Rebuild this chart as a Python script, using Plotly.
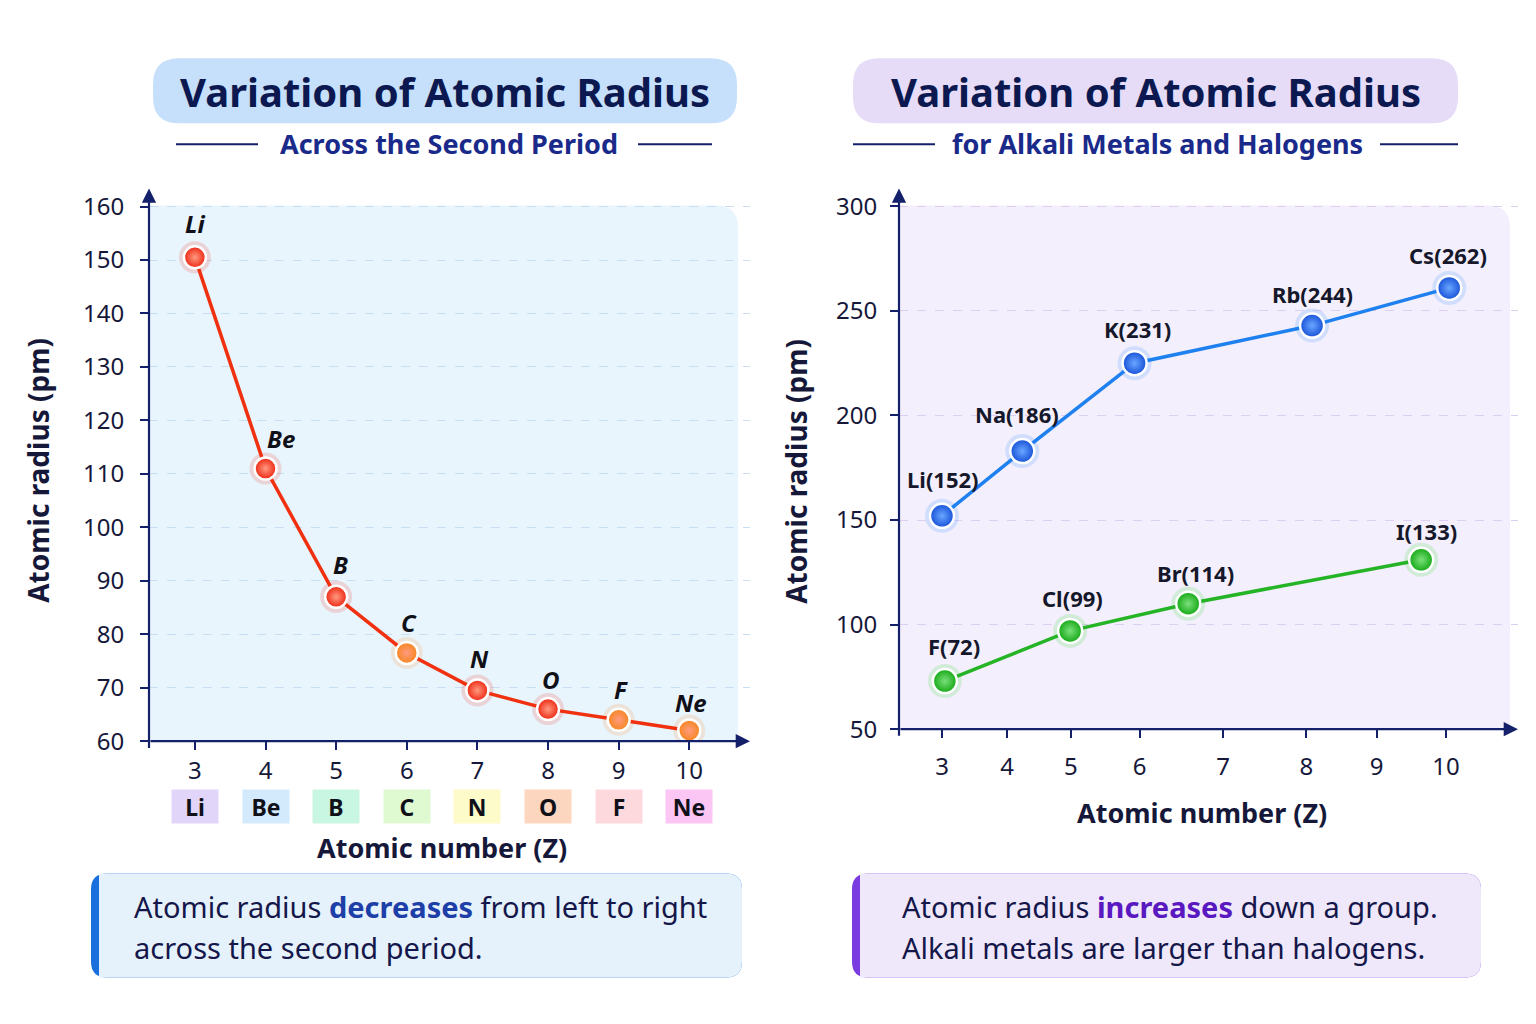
#! /usr/bin/env python3
# -*- coding: utf-8 -*-

""" Atomic radius: second period vs alkali metals / halogens. """
import plotly.graph_objects as go

# the page body keeps an 8px margin, so the figure is a bit smaller than the window
PAGE_W, PAGE_H, PAD = 1536, 1024, 8
W, H = PAGE_W - 2 * PAD, PAGE_H - 2 * PAD
VSCALE = 0.9837  # vertical squeeze seen in the captured page
FONT = 'Noto Sans'
NAVY = '#142069'
INK = '#16183a'

# left panel - across the second period
period_z = [3, 4, 5, 6, 7, 8, 9, 10]
period_sym = ['Li', 'Be', 'B', 'C', 'N', 'O', 'F', 'Ne']
period_radius = [150.5, 111, 87, 76.5, 69.5, 66, 64, 62]
period_ticks = [60, 70, 80, 90, 100, 110, 120, 130, 140, 150, 160]

# right panel - down a group
group_tickvals = [3, 3.905, 4.79, 5.745, 6.905, 8.06, 9.035, 10]
group_ticktext = ['3', '4', '5', '6', '7', '8', '9', '10']
group_yticks = [50, 100, 150, 200, 250, 300]
alkali_z = [3.0, 4.115, 5.675, 8.14, 10.045]
alkali_radius = [152, 183, 225, 243, 261]
alkali_labels = ['Li(152)', 'Na(186)', 'K(231)', 'Rb(244)', 'Cs(262)']
halogen_z = [3.04, 4.78, 6.42, 9.655]
halogen_radius = [73, 97, 110, 131]
halogen_labels = ['F(72)', 'Cl(99)', 'Br(114)', 'I(133)']

# styling
RED, ORANGE = '#ee2410', '#f7861c'
period_colors = [RED, RED, RED, ORANGE, RED, RED, ORANGE, ORANGE]
chip_colors = ['#e1d5fa', '#d3e9fc', '#c9f5e3', '#dffad0',
               '#fdfbc9', '#fdd6bf', '#fdd9dd', '#fbc5f4']
period_xshift = [0, 15, 4, 2, 2, 3, 2, 2]
period_yshift = [34, 30, 32, 30, 32, 30, 30, 28]
alkali_xshift = [1, -5, 3, 0, -1]
alkali_yshift = [37, 37, 34, 32, 33]
halogen_xshift = [9, 2, 7, 5]
halogen_yshift = [35, 33, 31, 29]


def px(x):
    """Window pixel x -> paper."""
    return (x - PAD) / W


def py(y):
    """Window pixel y -> paper."""
    return 1 - (y / VSCALE - PAD) / H


def rounded(x0, y0, x1, y1, r=(0, 0, 0, 0)):
    """SVG path of a rectangle in pixel coords with per-corner radii (tl, tr, br, bl)."""
    tl, tr, br, bl = r
    return (f"M {px(x0 + tl)},{py(y0)} L {px(x1 - tr)},{py(y0)} "
            f"Q {px(x1)},{py(y0)} {px(x1)},{py(y0 + tr)} L {px(x1)},{py(y1 - br)} "
            f"Q {px(x1)},{py(y1)} {px(x1 - br)},{py(y1)} L {px(x0 + bl)},{py(y1)} "
            f"Q {px(x0)},{py(y1)} {px(x0)},{py(y1 - bl)} L {px(x0)},{py(y0 + tl)} "
            f"Q {px(x0)},{py(y0)} {px(x0 + tl)},{py(y0)} Z")


def box(path, color, layer='below'):
    return dict(type='path', path=path, xref='paper', yref='paper',
                fillcolor=color, line=dict(width=0), layer=layer)


def text(x, y, s, size, color=INK, anchor='center', weight=None, **kw):
    font = dict(family=FONT, size=size, color=color)
    if weight:
        font['weight'] = weight
    return dict(x=px(x), y=py(y), xref='paper', yref='paper', text=s, showarrow=False,
                xanchor=anchor, yanchor='middle', font=font, **kw)


fig = go.Figure()

# left series
fig.add_trace(go.Scatter(x=period_z, y=period_radius, mode='markers', xaxis='x', yaxis='y',
                         marker=dict(size=32, color=period_colors, opacity=0.16, line=dict(width=0)),
                         hoverinfo='skip', showlegend=False))
fig.add_trace(go.Scatter(x=period_z, y=period_radius, mode='lines+markers', xaxis='x', yaxis='y',
                         line=dict(color='#f0300f', width=3.5),
                         marker=dict(size=22, color=period_colors, line=dict(color='white', width=2.5),
                                     gradient=dict(type='radial', color='#ff9a80')),
                         showlegend=False))

# right series
for xs, ys, lc, mc, gc, glow in [(alkali_z, alkali_radius, '#1f80f0', '#1650d8', '#6aa6ff', '#5aa0ff'),
                                 (halogen_z, halogen_radius, '#25b425', '#13a813', '#7be07b', '#5fe05f')]:
    fig.add_trace(go.Scatter(x=xs, y=ys, mode='markers', xaxis='x2', yaxis='y2',
                             marker=dict(size=34, color=glow, opacity=0.22, line=dict(width=0)),
                             hoverinfo='skip', showlegend=False))
    fig.add_trace(go.Scatter(x=xs, y=ys, mode='lines+markers', xaxis='x2', yaxis='y2',
                             line=dict(color=lc, width=3.5),
                             marker=dict(size=24, color=mc, line=dict(color='white', width=2.5),
                                         gradient=dict(type='radial', color=gc)),
                             showlegend=False))

shapes = [
    # title pills
    box(rounded(153, 58, 737, 123, (26, 26, 26, 26)), '#c6e0fb'),
    box(rounded(853, 58, 1458, 123, (26, 26, 26, 26)), '#e6dcf8'),
    # plot backgrounds
    box(rounded(149, 205, 738, 740, (0, 22, 0, 0)), '#e9f5fd'),
    box(rounded(899, 205, 1510, 728, (0, 22, 0, 0)), '#f3effc'),
    # note boxes with accent bars
    box(rounded(91, 872, 742, 976, (16, 16, 16, 16)), '#1a6fdc'),
    box(rounded(99, 872, 742, 976, (0, 16, 16, 0)), '#e5f2fc'),
    box(rounded(852, 872, 1481, 976, (16, 16, 16, 16)), '#7a3be0'),
    box(rounded(860, 872, 1481, 976, (0, 16, 16, 0)), '#efe8fb'),
]
for x0, x1 in [(176, 258), (638, 712), (853, 935), (1380, 1458)]:
    shapes.append(dict(type='line', xref='paper', yref='paper', x0=px(x0), x1=px(x1),
                       y0=py(144), y1=py(144), line=dict(color=NAVY, width=2)))

ann = [
    text(445, 91, '<b>Variation of Atomic Radius</b>', 40, '#0c1850', weight=800),
    text(449, 143, '<b>Across the Second Period</b>', 27, '#1a2a8a'),
    text(1156, 91, '<b>Variation of Atomic Radius</b>', 40, '#0c1850', weight=800),
    text(1157, 143, '<b>for Alkali Metals and Halogens</b>', 27, '#1a2a8a'),
    text(38, 470, '<b>Atomic radius (pm)</b>', 28, INK, textangle=-90),
    text(796, 470, '<b>Atomic radius (pm)</b>', 28, INK, textangle=-90),
    text(442, 846, '<b>Atomic number (Z)</b>', 27, INK),
    text(1202, 811, '<b>Atomic number (Z)</b>', 27, INK),
    text(132, 905, 'Atomic radius <b><span style="color:#1f3fa8">decreases</span></b> from left to right',
         29, '#15174a', anchor='left'),
    text(132, 946, 'across the second period.', 29, '#15174a', anchor='left'),
    text(900, 905, 'Atomic radius <b><span style="color:#5a18c0">increases</span></b> down a group.',
         29, '#15174a', anchor='left'),
    text(900, 946, 'Alkali metals are larger than halogens.', 29, '#15174a', anchor='left'),
]

# axis arrows (pixel offsets are in page pixels)
for x, y, x_tail, y_tail in [(750, 740, 149, 740), (149, 188, 149, 740),
                             (1518, 728, 899, 728), (899, 188, 899, 728)]:
    ann.append(dict(x=px(x), y=py(y), xref='paper', yref='paper',
                    ax=x_tail - x, ay=(y_tail - y) / VSCALE, text='',
                    showarrow=True, arrowhead=2, arrowsize=1.3, arrowwidth=2.2, arrowcolor=NAVY))

# element labels on the left chart
for z, r, s, dx, dy in zip(period_z, period_radius, period_sym, period_xshift, period_yshift):
    ann.append(dict(x=z, y=r, xref='x', yref='y', text=f'<b><i>{s}</i></b>', showarrow=False,
                    xshift=dx, yshift=dy, font=dict(family=FONT, size=24, color='#101018')))

# element chips under the x ticks
for z, s, c in zip(period_z, period_sym, chip_colors):
    ann.append(dict(x=z, y=py(805), xref='x', yref='paper', yanchor='middle', text=f'<b>{s}</b>',
                    showarrow=False, bgcolor=c, width=44, height=31,
                    font=dict(family=FONT, size=23, color='#101018')))

# value labels on the right chart
for xs, ys, labels, dxs, dys in [(alkali_z, alkali_radius, alkali_labels, alkali_xshift, alkali_yshift),
                                 (halogen_z, halogen_radius, halogen_labels, halogen_xshift, halogen_yshift)]:
    for z, r, s, dx, dy in zip(xs, ys, labels, dxs, dys):
        ann.append(dict(x=z, y=r, xref='x2', yref='y2', text=f'<b>{s}</b>', showarrow=False,
                        xshift=dx, yshift=dy, font=dict(family=FONT, size=22, color='#15172a')))

tick_font = dict(family=FONT, size=24, color=INK)
common = dict(ticks='outside', ticklen=8, tickwidth=2, tickcolor=NAVY, showline=False,
              zeroline=False, tickfont=tick_font, fixedrange=True)

fig.update_layout(
    width=W, height=H,
    margin=dict(l=0, r=0, t=0, b=0),
    paper_bgcolor='white', plot_bgcolor='rgba(0,0,0,0)',
    font=dict(family=FONT, color=INK),
    xaxis=dict(domain=[px(149), px(750)], range=[2.35, 10.86], anchor='y',
               tickvals=period_z, showgrid=False, ticklabelstandoff=0, **common),
    yaxis=dict(domain=[py(740), py(188)], range=[60, 163.4], anchor='x',
               tickvals=period_ticks, showgrid=True, gridcolor='#c8def5', griddash='dash',
               gridwidth=1, ticklabelstandoff=11, **common),
    xaxis2=dict(domain=[px(899), px(1518)], range=[2.403, 11.0], anchor='y2',
                tickvals=group_tickvals, ticktext=group_ticktext, showgrid=False,
                ticklabelstandoff=8, **common),
    yaxis2=dict(domain=[py(728), py(188)], range=[50, 308.6], anchor='x2',
                tickvals=group_yticks, showgrid=True, gridcolor='#dccff2', griddash='dash',
                gridwidth=1, ticklabelstandoff=8, **common),
    shapes=shapes,
    annotations=ann,
)

fig.write_html("out.html")
